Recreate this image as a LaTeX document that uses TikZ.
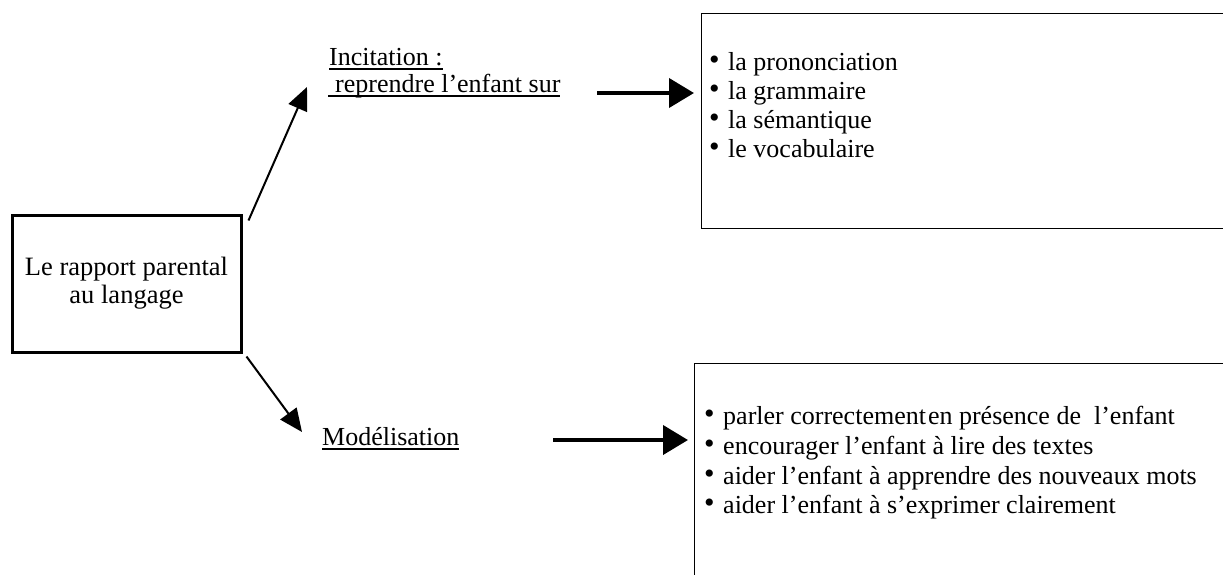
\documentclass[tikz,border=0pt]{standalone}
\usepackage{fontspec}
\setmainfont{Liberation Serif}
\usetikzlibrary{arrows.meta}
\newcommand{\ulinetext}[1]{\setbox0\hbox{#1}\rlap{\rule[-4.5pt]{\wd0}{1.4pt}}\box0}
\newcommand{\bulitem}[1]{\makebox[19pt][l]{\fontsize{30}{30}\selectfont\raisebox{0.8pt}{•}}#1}
\begin{document}
\begin{tikzpicture}[x=1pt,y=-1pt,
  txt/.style={font=\fontsize{26}{28}\selectfont, inner sep=0pt, anchor=base west},
  mainbox/.style={draw, line width=3pt, minimum width=229pt, minimum height=137pt, inner sep=0pt, align=center, font=\fontsize{26.5}{28}\selectfont},
  listbox/.style={draw, line width=1.3pt, inner sep=0pt, anchor=north west},
  thinarrow/.style={line width=2pt, -{Triangle[length=23pt,width=20pt]}},
  thickarrow/.style={line width=4pt, -{Triangle[length=25pt,width=29pt]}}]
\useasboundingbox (0,0) rectangle (1223,574);
\fill[white] (0,0) rectangle (1223,574);
\clip (0,0) rectangle (1223,574);

% main box
\node[mainbox] (main) at (126.5,283.5) {Le rapport parental\\au langage};

% labels
\node[txt] (inc1) at (329,65) {\ulinetext{Incitation~:}};
\node[txt] (inc2) at (328,92) {\ulinetext{\hspace{7pt}reprendre l'enfant sur}};
\node[txt] (mod) at (322,445) {\ulinetext{Modélisation}};

% list boxes
\node[listbox, minimum width=560pt, minimum height=215pt] (b1) at (701,13) {};
\node[listbox, minimum width=580pt, minimum height=260pt] (b2) at (694,363) {};

\node[txt] (l1) at (709,70) {\bulitem{la prononciation}};
\node[txt] (l2) at (709,99) {\bulitem{la grammaire}};
\node[txt] (l3) at (709,128) {\bulitem{la sémantique}};
\node[txt] (l4) at (709,157) {\bulitem{le vocabulaire}};

\node[txt] (m1) at (704,424) {\bulitem{parler correctement\hspace{2pt}en présence de\ \ l'enfant}};
\node[txt] (m2) at (704,454) {\bulitem{encourager l'enfant à lire des textes}};
\node[txt] (m3) at (704,484) {\bulitem{aider l'enfant à apprendre des nouveaux mots}};
\node[txt] (m4) at (704,513) {\bulitem{aider l'enfant à s'exprimer clairement}};

% connectors
\coordinate (t1) at (307,87);
\coordinate (t2) at (302,432);
\coordinate (h1) at (597,93);
\coordinate (h2) at (553,440);
\draw[thinarrow] ([shift={(6,7)}]main.north east) -- (t1);
\draw[thinarrow] ([shift={(4,3)}]main.south east) -- (t2);
\draw[thickarrow, shorten >=7pt] (h1) -- (h1 -| b1.west);
\draw[thickarrow, shorten >=6pt] (h2) -- (h2 -| b2.west);
\end{tikzpicture}
\end{document}
